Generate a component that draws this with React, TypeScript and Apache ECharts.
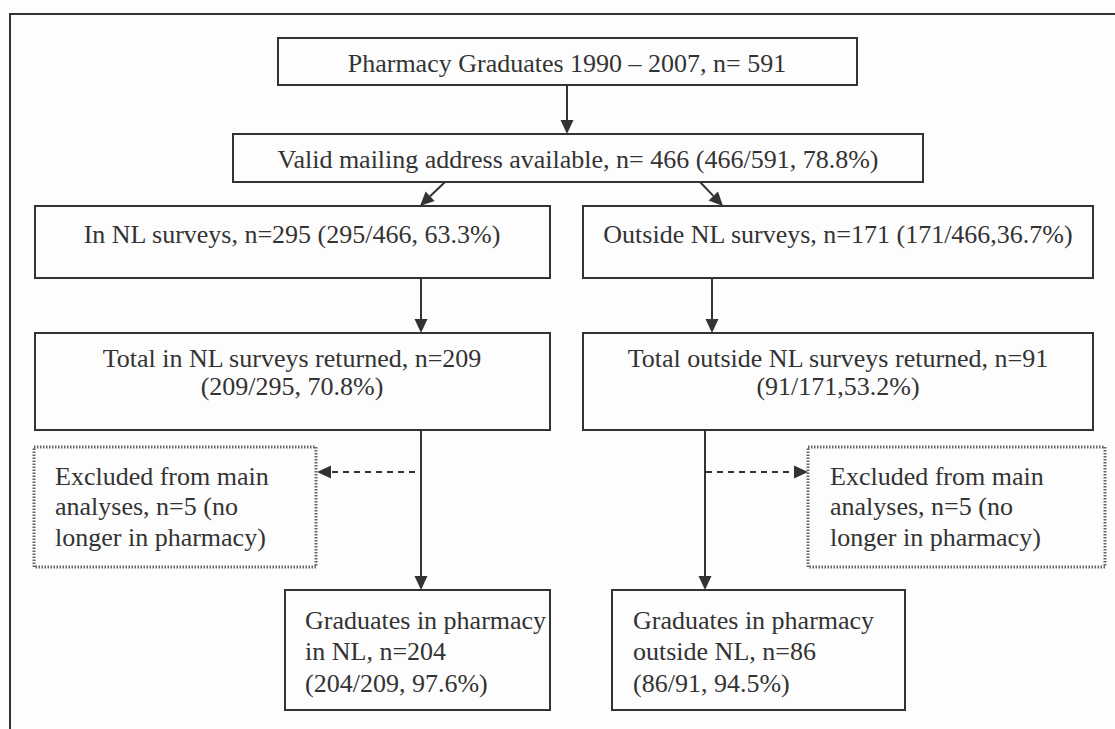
import React, { useEffect, useRef } from 'react';
import * as echarts from 'echarts';

// Flowchart content
const boxLabels: string[] = [
  'Pharmacy Graduates 1990 – 2007, n= 591',
  'Valid mailing address available, n= 466 (466/591, 78.8%)',
  'In NL surveys, n=295 (295/466, 63.3%)',
  'Outside NL surveys, n=171 (171/466,36.7%)',
  'Total in NL surveys returned, n=209\n(209/295, 70.8%)',
  'Total outside NL surveys returned, n=91\n(91/171,53.2%)',
  'Excluded from main\nanalyses, n=5 (no\nlonger in pharmacy)',
  'Excluded from main\nanalyses, n=5 (no\nlonger in pharmacy)',
  'Graduates in pharmacy\nin NL, n=204\n(204/209, 97.6%)',
  'Graduates in pharmacy\noutside NL, n=86\n(86/91, 94.5%)',
];

// Layout (positions kept separate from content)
type Box = { x: number; y: number; w: number; h: number; align: 'center' | 'left'; tx: number; ty: number; lh: number; dotted?: boolean };
const boxLayout: Box[] = [
  { x: 278, y: 38, w: 579, h: 47, align: 'center', tx: 567, ty: 63, lh: 28 },
  { x: 233, y: 134, w: 690, h: 48, align: 'center', tx: 578, ty: 159, lh: 28 },
  { x: 35, y: 206, w: 515, h: 72, align: 'center', tx: 292, ty: 234, lh: 28 },
  { x: 583, y: 206, w: 510, h: 72, align: 'center', tx: 838, ty: 234, lh: 28 },
  { x: 35, y: 333, w: 515, h: 97, align: 'center', tx: 292, ty: 358, lh: 28.5 },
  { x: 583, y: 333, w: 510, h: 97, align: 'center', tx: 838, ty: 358, lh: 28.5 },
  { x: 34, y: 447, w: 282, h: 120, align: 'left', tx: 55, ty: 476, lh: 30.5, dotted: true },
  { x: 808, y: 447, w: 297, h: 120, align: 'left', tx: 830, ty: 476, lh: 30.5, dotted: true },
  { x: 285, y: 590, w: 265, h: 120, align: 'left', tx: 305, ty: 620, lh: 31.5 },
  { x: 612, y: 590, w: 293, h: 120, align: 'left', tx: 633, ty: 620, lh: 31.5 },
];

type Arrow = { x1: number; y1: number; x2: number; y2: number; dashed?: boolean };
const arrows: Arrow[] = [
  { x1: 567, y1: 85, x2: 567, y2: 134 },
  { x1: 445, y1: 182, x2: 420, y2: 206 },
  { x1: 700, y1: 182, x2: 723, y2: 206 },
  { x1: 421, y1: 278, x2: 421, y2: 333 },
  { x1: 712, y1: 278, x2: 712, y2: 333 },
  { x1: 421, y1: 430, x2: 421, y2: 590 },
  { x1: 705, y1: 430, x2: 705, y2: 590 },
  { x1: 415, y1: 472, x2: 317, y2: 472, dashed: true },
  { x1: 706, y1: 472, x2: 808, y2: 472, dashed: true },
];

const INK = '#333333';
const FONT = '"Liberation Serif", "DejaVu Serif", serif';

function buildGraphics() {
  const els: any[] = [];
  // outer frame
  els.push({
    type: 'rect',
    shape: { x: 10, y: 14, width: 1125, height: 740 },
    style: { fill: 'none', stroke: INK, lineWidth: 2 },
  });
  boxLayout.forEach((b, i) => {
    els.push({
      type: 'rect',
      shape: { x: b.x, y: b.y, width: b.w, height: b.h },
      style: b.dotted
        ? { fill: 'none', stroke: '#666', lineWidth: 3, lineDash: [1.5, 1.5] }
        : { fill: 'none', stroke: INK, lineWidth: 2 },
    });
    els.push({
      type: 'text',
      style: {
        text: boxLabels[i],
        x: b.tx,
        y: b.ty - b.lh / 2,
        fill: INK,
        fontFamily: FONT,
        fontSize: 26,
        lineHeight: b.lh,
        align: b.align,
        verticalAlign: 'top',
      },
    });
  });
  arrows.forEach((a) => {
    const dx = a.x2 - a.x1;
    const dy = a.y2 - a.y1;
    const len = Math.sqrt(dx * dx + dy * dy);
    const ux = dx / len;
    const uy = dy / len;
    const hl = 14;
    const hw = 6.5;
    const bx = a.x2 - ux * hl;
    const by = a.y2 - uy * hl;
    els.push({
      type: 'line',
      shape: { x1: a.x1, y1: a.y1, x2: bx, y2: by },
      style: a.dashed
        ? { stroke: INK, lineWidth: 2, lineDash: [6, 5] }
        : { stroke: INK, lineWidth: 2 },
    });
    els.push({
      type: 'polygon',
      shape: {
        points: [
          [a.x2, a.y2],
          [bx - uy * hw, by + ux * hw],
          [bx + uy * hw, by - ux * hw],
        ],
      },
      style: { fill: INK },
    });
  });
  return els;
}

export default function App() {
  const ref = useRef<HTMLDivElement>(null);
  useEffect(() => {
    if (!ref.current) return;
    const chart = echarts.init(ref.current, undefined, { renderer: 'svg' });
    chart.setOption({
      animation: false,
      backgroundColor: '#fdfdfd',
      graphic: { elements: buildGraphics() },
    });
    return () => chart.dispose();
  }, []);
  return (
    <div
      ref={ref}
      style={{ position: 'fixed', left: 0, top: 0, width: 1115, height: 729 }}
    />
  );
}
